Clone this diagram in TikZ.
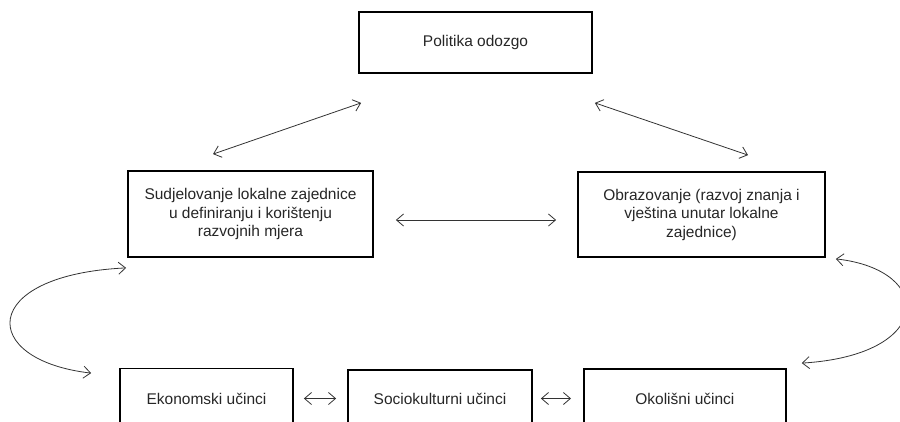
\documentclass[tikz,border=0pt]{standalone}
\usepackage{fontspec}
\setmainfont{Liberation Sans}
\usetikzlibrary{arrows.meta,calc}
\tikzset{
  box/.style={draw=black, line width=1.8pt, rectangle, inner sep=0pt, align=center,
    text=black!85, font=\fontsize{15.5}{18.5}\selectfont},
  arr/.style={draw=black!80, line width=0.8pt, {Straight Barb[length=7pt,width=12pt]}-{Straight Barb[length=7pt,width=12pt]}}
}
\begin{document}
\begin{tikzpicture}[x=1pt,y=-1pt]
\useasboundingbox (0,0) rectangle (900,421);
\clip (0,0) rectangle (900,421);
\node[box, minimum width=233, minimum height=61] (pol) at (475.5,42.5) {Politika odozgo};
\node[box, minimum width=245, minimum height=86] (sud) at (250.5,214) {Sudjelovanje lokalne zajednice\\u definiranju i korištenju\\razvojnih mjera};
\node[box, minimum width=247, minimum height=85] (obr) at (701.5,214.5) {Obrazovanje (razvoj znanja i\\vještina unutar lokalne\\zajednice)};
\node[box, minimum width=173, minimum height=60] (eko) at (206.5,398.5) {Ekonomski učinci};
\node[box, minimum width=184, minimum height=57] (soc) at (440,398.5) {Sociokulturni učinci};
\node[box, minimum width=202, minimum height=59] (oko) at (583,398.5) [anchor=west] {Okolišni učinci};

\draw[arr] ($(sud.north)+(-37.5,-16)$) -- ($(pol.south west)+(3,29)$);
\draw[arr] ($(pol.south east)+(2,29)$) -- ($(obr.north)+(46.5,-16)$);
\draw[arr] ($(sud.east)+(22,6)$) -- ($(obr.west)+(-21,5.5)$);
\draw[arr] ($(eko.east)+(10,0)$) -- ($(soc.west)+(-11,0)$);
\draw[arr] ($(soc.east)+(8,0)$) -- ($(oko.west)+(-12,0)$);
\draw[arr] ($(sud.south west)+(-1,10)$) .. controls (-22,275) and (-22,360) .. ($(eko.north west)+(-28,5.5)$);
\draw[arr] ($(obr.south east)+(10,1)$) .. controls (935,270) and (935,355) .. ($(oko.north east)+(15,-5)$);
\end{tikzpicture}
\end{document}
